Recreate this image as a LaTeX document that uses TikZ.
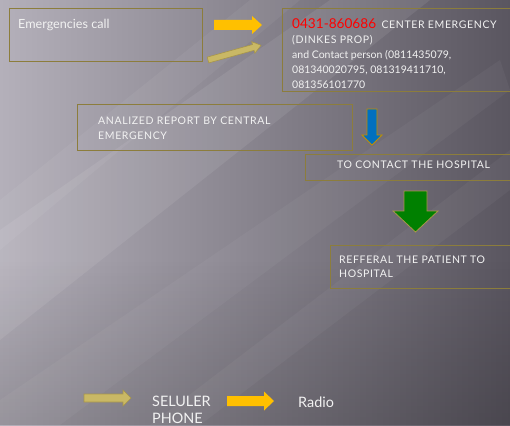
\documentclass[tikz,border=0pt]{standalone}
\usepackage{fontspec}
\setmainfont{Lato}
\usetikzlibrary{fadings}
\definecolor{boxline}{HTML}{8C7D3C}
\definecolor{yel}{HTML}{FFC000}
\definecolor{khaki}{HTML}{C9B865}
\definecolor{khakiline}{HTML}{A8964A}
\definecolor{blu}{HTML}{0070C0}
\definecolor{grn}{HTML}{008000}
\definecolor{txt}{HTML}{F2F2F2}
\definecolor{bgdark}{HTML}{5A5660}
\definecolor{bglight}{HTML}{B4B0BA}
\newfontfamily\capsfont[LetterSpace=6]{Lato}
% block arrow: style, x, y, angle, length, shaft, head width, head length
\newcommand{\blockarr}[8]{%
  \begin{scope}[shift={(#2,#3)}, rotate=#4]
    \draw[#1] (0,-#6/2) -- (#5-#8,-#6/2) -- (#5-#8,-#7/2) -- (#5,0)
      -- (#5-#8,#7/2) -- (#5-#8,#6/2) -- (0,#6/2) -- cycle;
  \end{scope}}
\tikzset{
  box/.style={draw=boxline, line width=1.2pt, rectangle, inner sep=0pt, anchor=north west},
  label/.style={text=txt, anchor=base west, inner sep=0pt, align=left, font=\capsfont\fontsize{10.5}{15}\selectfont},
}
\begin{document}
\begin{tikzpicture}[x=1pt,y=-1pt]
\useasboundingbox (0,0) rectangle (510,425);
% background
\shade[shading angle=115, left color=bglight, right color=bgdark] (0,0) rectangle (510,425);
\fill[black, opacity=0.18, path fading=north] (0,260) rectangle (510,425);
\fill[white, opacity=0.08] (330,0) -- (430,0) -- (0,340) -- (0,230) -- cycle;
\fill[white, opacity=0.05] (250,0) -- (300,0) -- (0,250) -- (0,200) -- cycle;
\fill[white, opacity=0.04] (500,60) -- (510,90) -- (60,425) -- (0,425) -- (0,400) -- cycle;
\fill[white, opacity=0.04] (510,150) -- (510,190) -- (200,425) -- (150,425) -- cycle;
% boxes
\node[box, minimum width=193pt, minimum height=53pt] (b1) at (9,8) {};
\node[box, minimum width=232pt, minimum height=83pt] (b2) at (282,8) {};
\node[box, minimum width=275pt, minimum height=46pt] (b3) at (77,104) {};
\node[box, minimum width=210pt, minimum height=26pt] (b4) at (305,154) {};
\node[box, minimum width=185pt, minimum height=43pt] (b5) at (330,245) {};
% texts (base anchor = baseline of the last line)
\node[label, font=\rmfamily\fontsize{12.6}{15}\selectfont] (t1) at (18,28.3) {Emergencies call};
\node[label, font=\rmfamily\fontsize{10.5}{15}\selectfont] (t2) at (292,88.5) {{\color{red}\fontsize{13.6}{15}\selectfont 0431-860686}\ \ {\capsfont CENTER EMERGENCY}\\{\capsfont (DINKES PROP)}\\and Contact person (0811435079,\\081340020795, 081319411710,\\081356101770};
\node[label] (t3) at (98,139) {ANALIZED REPORT BY CENTRAL\\EMERGENCY};
\node[label] (t4) at (337,168.3) {TO CONTACT THE HOSPITAL};
\node[label, font=\capsfont\fontsize{10.5}{14}\selectfont] (t5) at (339,277.3) {REFFERAL THE PATIENT TO\\HOSPITAL};
% arrows
\blockarr{fill=yel, draw=none}{214}{25}{0}{48}{10}{18}{10}
\blockarr{fill=khaki, draw=khakiline, line width=0.6pt}{208}{60}{15.5}{55}{6}{12}{8}
\blockarr{fill=blu, draw=yel!75!black, line width=0.8pt}{372}{109}{-90}{36}{10}{20}{10}
\blockarr{fill=grn, draw=khakiline, line width=0.8pt}{415.5}{191}{-90}{41}{23}{45}{21}
% legend
\blockarr{fill=khaki, draw=khakiline, line width=0.6pt}{84}{398}{0}{47}{8}{16}{8}
\node[label, font=\rmfamily\fontsize{14.4}{17}\selectfont] (l2) at (152,423) {SELULER\\PHONE};
\blockarr{fill=yel, draw=none}{227}{401}{0}{47}{10}{19}{10}
\node[label, font=\rmfamily\fontsize{14.4}{17}\selectfont] (l4) at (298,407) {Radio};
\end{tikzpicture}
\end{document}
